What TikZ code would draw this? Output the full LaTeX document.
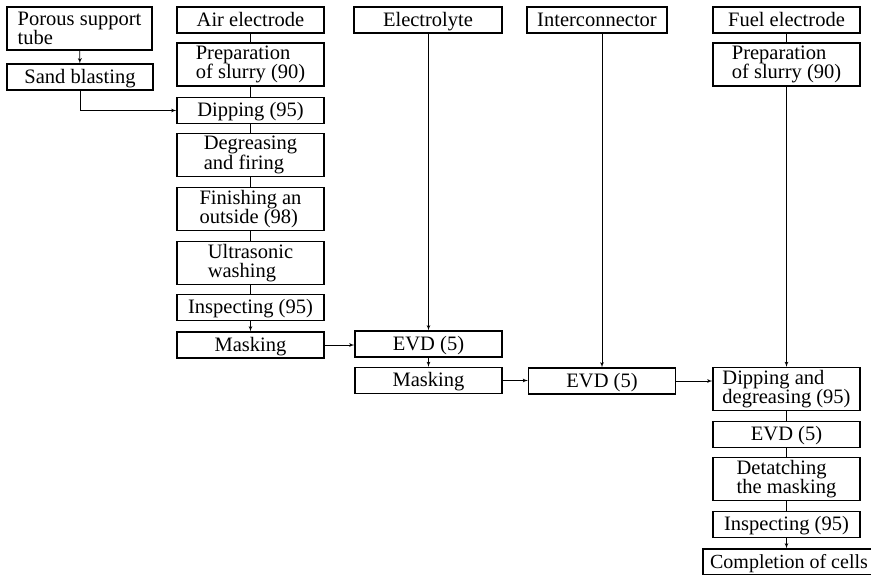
\documentclass[tikz,border=0pt]{standalone}
\usepackage{fontspec}
\setmainfont{Liberation Serif}
\usetikzlibrary{arrows}
\tikzset{
	edge/.style={->,> = latex', line width=0.8pt},
	line/.style={line width=0.8pt}
}
\tikzset{
	frame/.style={draw, line width=1.1pt, minimum width=147pt, inner sep=1pt, align=left, font=\fontsize{20.5}{18.5}\selectfont},
	box/.style={frame, minimum height=26pt, text height=15pt, text depth=3pt},
	tall/.style={frame, minimum height=43pt}
}

\begin{document}
\begin{tikzpicture}[x=1pt, y=-1pt]
\useasboundingbox (0,0) rectangle (871,574);
\node[tall, minimum width=145pt] (PST) at (79.5, 28.5) {Porous support\\tube};
\node[box, minimum width=146pt] (SB) at (80, 77) {Sand blasting};

\node[box] (AE) at (250.5, 20) {Air electrode};
\node[tall] (PA) at (250.5, 64.5) {Preparation\\of slurry (90)};
\node[box] (DA) at (250.5, 110.5) {Dipping (95)};
\node[tall] (DGF) at (250.5, 155) {Degreasing\\and firing};
\node[tall] (FO) at (250.5, 209) {Finishing an\\outside (98)};
\node[tall] (UW) at (250.5, 263) {Ultrasonic\\washing};
\node[box] (IA) at (250.5, 307.5) {Inspecting (95)};
\node[box] (MA) at (250.5, 345) {Masking};

\node[box, minimum width=148pt] (EL) at (428, 20) {Electrolyte};
\node[box] (EE) at (428.5, 344) {EVD (5)};
\node[box] (ME) at (428.5, 380.5) {Masking};

\node[box, minimum width=140pt] (IC) at (597, 20) {Interconnector};
\node[box] (EI) at (602, 381) {EVD (5)};

\node[box] (FE) at (786.5, 20) {Fuel electrode};
\node[tall] (PF) at (786.5, 64.5) {Preparation\\of slurry (90)};
\node[tall] (DDF) at (786.5, 389) {Dipping and\\degreasing (95)};
\node[box] (EF) at (786.5, 434.5) {EVD (5)};
\node[tall] (DM) at (786.5, 479) {Detatching\\the masking};
\node[box] (IF) at (786.5, 524.5) {Inspecting (95)};
\node[box, minimum width=172pt, font=\fontsize{20}{18.5}\selectfont] (CC) at (789, 562) {Completion of cells};

\draw[edge] (PST) -- (SB);
\draw[edge] (SB.south) |- (DA.west);

\draw[line] (AE) -- (PA);
\draw[line] (PA) -- (DA);
\draw[line] (DA) -- (DGF);
\draw[line] (DGF) -- (FO);
\draw[line] (FO) -- (UW);
\draw[line] (UW) -- (IA);
\draw[edge] (IA) -- (MA);
\draw[edge] (MA.east) -- (MA.east -| EE.west);

\draw[edge] (EL.south -| EE.north) -- (EE.north);
\draw[edge] (EE) -- (ME);
\draw[edge] (ME.east) -- (ME.east -| EI.west);

\draw[edge] (IC.south -| EI.north) -- (EI.north);
\draw[edge] (EI.east) -- (EI.east -| DDF.west);

\draw[line] (FE) -- (PF);
\draw[edge] (PF) -- (DDF);
\draw[line] (DDF) -- (EF);
\draw[line] (EF) -- (DM);
\draw[line] (DM) -- (IF);
\draw[edge] (IF) -- (CC.north -| IF.south);
\end{tikzpicture}
\end{document}
